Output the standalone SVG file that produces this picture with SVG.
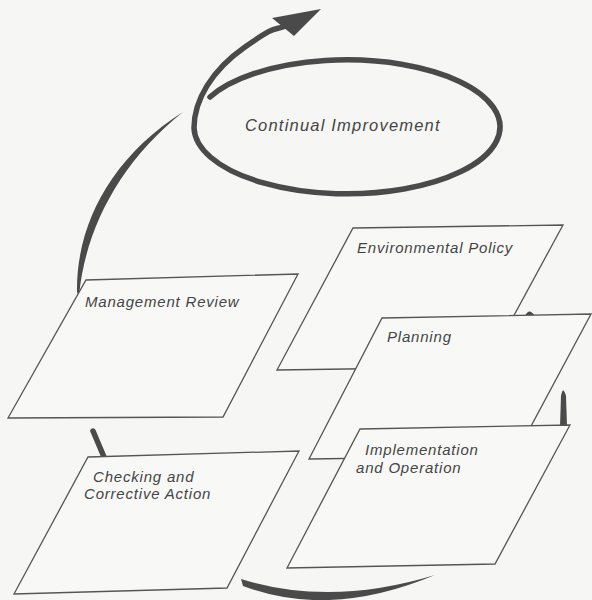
<svg xmlns="http://www.w3.org/2000/svg" width="592" height="600" viewBox="0 0 592 600">
  <style>
    .bg { fill: #f6f6f5; }
    .box { fill: #f8f8f7; stroke: #555; stroke-width: 1.3; stroke-linejoin: miter; }
    .lbl { font-family: "Liberation Sans", Arial, sans-serif; font-style: italic; font-size: 15px; letter-spacing: 0.8px; fill: #444; }
    .big { font-size: 16.5px; letter-spacing: 1.2px; }
    .arc { fill: none; stroke: #4a4a4a; stroke-width: 5.5; stroke-linecap: round; }
    .tap { fill: #4a4a4a; stroke: none; }
  </style>
  <rect class="bg" x="0" y="0" width="592" height="600"/>

  <g id="connectors">
    <!-- left upper arc (Management Review to top) -->
    <path class="tap" d="M 79,296 C 85,230 119,163 183,112 C 110,158 76,226 77,292 Z"/>
    <!-- left lower short segment (Checking to Management Review) -->
    <path class="arc" d="M 93,431 L 104,457" stroke-linecap="butt"/>
    <!-- bottom arc -->
    <path class="tap" d="M 241,579 Q 330,607 435,575 Q 330,619 243,586 Z"/>
    <!-- right side pieces -->
    <path class="tap" d="M 560,426 L 561,396 Q 563,385 566,396 L 567,426 Z"/>
    <path class="tap" d="M 525,316 Q 529,307 535,316 Z"/>
  </g>

  <g id="continual-improvement">
    <path class="arc" d="M 210,97 A 153 67 0 1 1 194,128 C 194,100 212,70 245,47 S 272,31 286,26"/>
    <polygon class="tap" points="321,9 272,18 283,27 294,36"/>
    <text class="lbl big" x="245" y="131">Continual Improvement</text>
  </g>

  <g id="management-review">
    <polygon class="box" points="86,280 298,274 223,417 8,418"/>
    <text class="lbl" x="85" y="307">Management Review</text>
  </g>

  <g id="environmental-policy">
    <polygon class="box" points="353,228 563,225 486,367 277,370"/>
    <text class="lbl" x="357" y="253">Environmental Policy</text>
  </g>

  <g id="planning">
    <polygon class="box" points="382,318 591,314 515,456 309,459"/>
    <text class="lbl" x="387" y="342">Planning</text>
  </g>

  <g id="implementation-and-operation">
    <polygon class="box" points="360,429 570,425 495,564 287,568"/>
    <text class="lbl" x="365" y="455">Implementation</text>
    <text class="lbl" x="356" y="473">and Operation</text>
  </g>

  <g id="checking-and-corrective-action">
    <polygon class="box" points="88,457 299,451 227,588 14,594"/>
    <text class="lbl" x="93" y="482">Checking and</text>
    <text class="lbl" x="84" y="499">Corrective Action</text>
  </g>
</svg>
